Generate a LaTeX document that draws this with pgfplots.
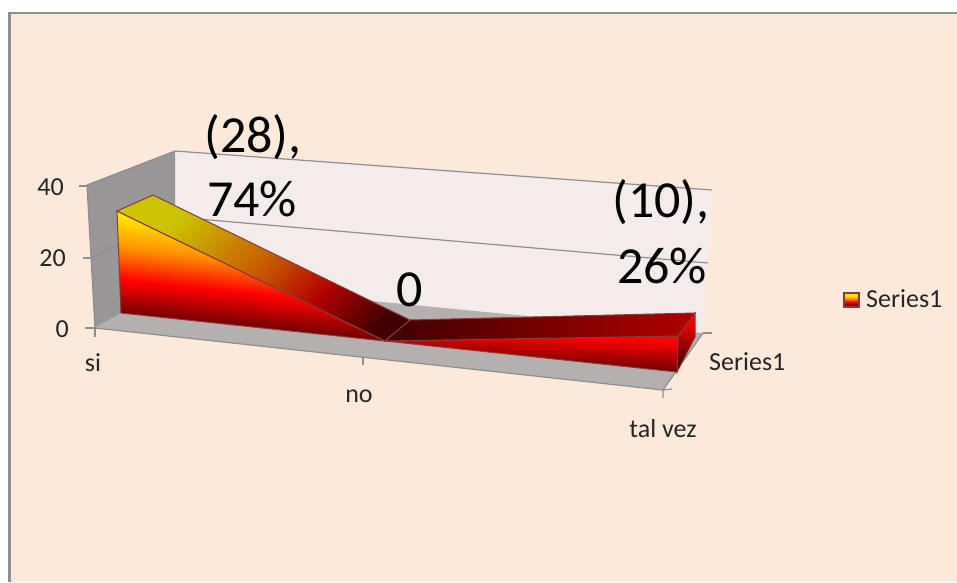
\documentclass[border=0pt]{standalone}
\usepackage{pgfplots}
\pgfplotsset{compat=1.18}
\usepackage{fontspec}
\setmainfont{Carlito}
\definecolor{bgc}{HTML}{FDE9DA}
\definecolor{wallc}{HTML}{F4EBEB}
\definecolor{sidec}{HTML}{989696}
\definecolor{floorc}{HTML}{B5B0B0}
\definecolor{gridc}{HTML}{8E8E8E}
\definecolor{edgec}{HTML}{8B3A3A}
\definecolor{fdark}{HTML}{400000}
\definecolor{fred}{HTML}{FF0000}
\definecolor{forange}{HTML}{FF9000}
\definecolor{fyellow}{HTML}{FFE600}
\definecolor{tolive}{HTML}{CCC400}
\definecolor{tmid}{HTML}{C85800}
\definecolor{tred}{HTML}{B00000}
\pgfdeclareverticalshading{fire}{100bp}{color(0bp)=(fdark);color(28bp)=(fdark);color(44bp)=(fred);color(55bp)=(forange);color(66bp)=(fyellow);color(100bp)=(fyellow)}
\pgfdeclareverticalshading{topfire}{100bp}{color(0bp)=(fdark);color(22bp)=(fdark);color(36bp)=(tred);color(50bp)=(tmid);color(72bp)=(tolive);color(100bp)=(tolive)}
\pgfdeclareverticalshading{redfire}{100bp}{color(0bp)=(fdark);color(30bp)=(fdark);color(70bp)=(fred);color(100bp)=(fred)}
\begin{document}
\begin{tikzpicture}
\begin{axis}[
  scale only axis, width=957pt, height=582pt,
  xmin=0, xmax=957, ymin=0, ymax=582, y dir=reverse,
  axis lines=none, clip=true, xtick=\empty, ytick=\empty]
% page
\addplot[draw=none, fill=white] coordinates {(0,0)(957,0)(957,582)(0,582)} -- cycle;
\addplot[draw=none, fill=gridc] coordinates {(8,12)(957,12)(957,582)(8,582)} -- cycle;
\addplot[draw=none, fill=bgc] coordinates {(10.5,14)(957,14)(957,582)(10.5,582)} -- cycle;
% walls and floor
\addplot[draw=none, fill=wallc] coordinates {(175,151)(712,190)(703,333)(175,282)} -- cycle;
\addplot[draw=none, fill=sidec] coordinates {(87,185)(175,151)(175,282)(95,328)} -- cycle;
\addplot[draw=none, fill=floorc] coordinates {(95,328)(175,282)(703,333)(663,390)} -- cycle;
% grid and axis lines
\addplot[gridc, line width=1.2pt] coordinates {(87,185)(175,151)(712,190)};
\addplot[gridc, line width=1.2pt] coordinates {(90,258)(175,217)(708,263)};
\addplot[gridc, line width=1.2pt] coordinates {(87,185)(95,328)(663,390)(703,333)};
\addplot[gridc, line width=1.2pt] coordinates {(79,186)(87,186)};
\addplot[gridc, line width=1.2pt] coordinates {(83,258)(90,258)};
\addplot[gridc, line width=1.2pt] coordinates {(85,328)(95,328)(95,337)};
\addplot[gridc, line width=1.2pt] coordinates {(363,357)(363,365)};
\addplot[gridc, line width=1.2pt] coordinates {(663,398)(663,390)(672,389)};
\addplot[gridc, line width=1.2pt] coordinates {(703,333)(712,333)};
% series: si 28, no 0, tal vez 10
\addplot[draw=edgec, line width=1pt, shade, shading=redfire, shading angle=0] coordinates {(678,336)(695,313)(695,337)(677,372)} -- cycle;
\addplot[draw=edgec, line width=1pt, shade, shading=fire, shading angle=-6] coordinates {(117,211)(385,341)(121,313)} -- cycle;
\addplot[draw=edgec, line width=1pt, shade, shading=redfire, shading angle=-3] coordinates {(385,341)(678,336)(677,372)} -- cycle;
\addplot[draw=edgec, line width=1pt, shade, shading=topfire, shading angle=45] coordinates {(117,211)(153,195)(410,320)(385,341)} -- cycle;
\addplot[draw=edgec, line width=1pt, left color=fdark, right color=tred] coordinates {(385,341)(410,320)(695,313)(678,336)} -- cycle;
% legend key
\addplot[draw=edgec, line width=1.6pt, shade, shading=fire] coordinates {(844,293)(859,293)(859,307)(844,307)} -- cycle;
% data labels
\node[anchor=base, font=\fontsize{52}{60}\selectfont, inner sep=0pt] at (axis cs:253,152) {(28),};
\node[anchor=base, font=\fontsize{52}{60}\selectfont, inner sep=0pt] at (axis cs:252,216) {74\%};
\node[anchor=base, font=\fontsize{52}{60}\selectfont, inner sep=0pt] at (axis cs:410,306) {0};
\node[anchor=base, font=\fontsize{52}{60}\selectfont, inner sep=0pt] at (axis cs:661,217) {(10),};
\node[anchor=base, font=\fontsize{52}{60}\selectfont, inner sep=0pt] at (axis cs:662,283) {26\%};
% tick labels
\node[anchor=base east, font=\fontsize{26}{30}\selectfont, inner sep=0pt, text=black!85] at (axis cs:64,195) {40};
\node[anchor=base east, font=\fontsize{26}{30}\selectfont, inner sep=0pt, text=black!85] at (axis cs:66,266) {20};
\node[anchor=base east, font=\fontsize{26}{30}\selectfont, inner sep=0pt, text=black!85] at (axis cs:69,337) {0};
\node[anchor=base, font=\fontsize{26}{30}\selectfont, inner sep=0pt, text=black!85] at (axis cs:93,371) {si};
\node[anchor=base, font=\fontsize{26}{30}\selectfont, inner sep=0pt, text=black!85] at (axis cs:359,402) {no};
\node[anchor=base, font=\fontsize{26}{30}\selectfont, inner sep=0pt, text=black!85] at (axis cs:663,437) {tal vez};
\node[anchor=base west, font=\fontsize{26}{30}\selectfont, inner sep=0pt, text=black!85] at (axis cs:709,370) {Series1};
\node[anchor=base west, font=\fontsize{26}{30}\selectfont, inner sep=0pt, text=black!85] at (axis cs:866,307) {Series1};
\end{axis}
\end{tikzpicture}
\end{document}
